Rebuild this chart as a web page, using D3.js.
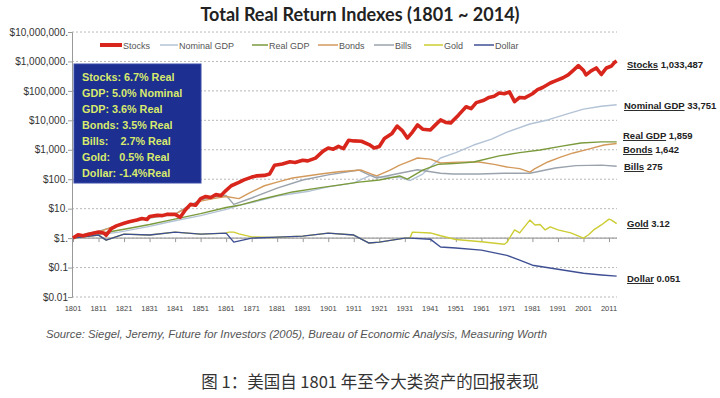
<!DOCTYPE html>
<html>
<head>
<meta charset="utf-8">
<script src="https://cdn.jsdelivr.net/npm/d3@7"></script>
<style>
  body { margin: 0; background: #fff; }
  svg { display: block; font-family: "Liberation Sans", Arial, sans-serif; }
</style>
</head>
<body>
<div id="chart"></div>
<script>
// ---- data ----
var stocks = [[1801,1],[1803,1.3],[1805,1.2],[1808,1.4],[1811,1.6],[1813,1.5],[1814,1.25],[1816,2.1],[1818,2.6],[1821,3.2],[1823,3.6],[1826,4.1],[1828,4.6],[1830,4.3],[1831,5.4],[1834,6.0],[1836,5.8],[1838,6.5],[1841,6.4],[1843,5.1],[1845,9],[1847,14],[1849,13],[1851,22],[1853,26],[1855,24],[1857,30],[1859,28],[1861,42],[1863,60],[1866,78],[1868,95],[1871,118],[1873,130],[1876,135],[1878,150],[1880,300],[1883,330],[1886,390],[1888,370],[1891,440],[1893,420],[1896,520],[1899,900],[1901,1150],[1903,1050],[1905,1300],[1907,1100],[1909,2100],[1911,2000],[1914,1950],[1917,1500],[1919,1150],[1921,1300],[1923,2400],[1926,3600],[1928,6400],[1930,4500],[1932,2500],[1934,4000],[1936,7000],[1938,5000],[1941,4700],[1943,7000],[1945,10300],[1947,8500],[1949,8200],[1952,15000],[1955,29000],[1957,25000],[1959,40000],[1962,48000],[1964,60000],[1966,66000],[1968,85000],[1970,80000],[1972,93000],[1974,43000],[1976,60000],[1978,58000],[1981,80000],[1983,110000],[1985,130000],[1988,185000],[1990,220000],[1993,280000],[1995,350000],[1997,500000],[1999,720000],[2001,500000],[2002,350000],[2004,480000],[2006,600000],[2008,360000],[2009,470000],[2010,600000],[2012,700000],[2013,900000],[2014,1033487]];
var nominalGdp = [[1801,1],[1811,1.3],[1819,1.6],[1831,2.5],[1839,3.6],[1851,5.8],[1861,9.5],[1866,13],[1871,16],[1881,27],[1894,40],[1901,55],[1911,75],[1918,140],[1921,120],[1929,115],[1933,90],[1938,150],[1945,525],[1951,800],[1958,1450],[1965,2300],[1971,4000],[1980,7500],[1987,10300],[1995,17000],[2001,24000],[2008,30000],[2014,33751]];
var realGdp = [[1801,1],[1811,1.4],[1821,2.0],[1831,2.9],[1839,4.1],[1851,6.8],[1861,11],[1866,13],[1874,20],[1887,37],[1898,52],[1905,63],[1913,80],[1921,94],[1925,110],[1929,129],[1932,100],[1938,205],[1944,320],[1950,340],[1958,385],[1968,620],[1976,800],[1984,980],[1992,1300],[2000,1700],[2008,1850],[2014,1859]];
var bonds = [[1801,1],[1806,1.4],[1811,1.6],[1816,2.3],[1821,3.2],[1826,4.2],[1831,5.0],[1836,5.8],[1841,6.5],[1846,11],[1851,18],[1856,22],[1861,26],[1866,22],[1870,34],[1876,60],[1881,80],[1887,110],[1898,150],[1905,180],[1914,205],[1918,150],[1920,130],[1925,200],[1929,300],[1932,380],[1936,525],[1941,480],[1945,355],[1952,380],[1960,385],[1966,320],[1971,260],[1976,230],[1980,175],[1982,230],[1987,385],[1992,560],[1997,780],[2003,1050],[2009,1450],[2014,1642]];
var bills = [[1801,1],[1806,1.4],[1811,1.7],[1816,2.3],[1821,3.2],[1831,4.8],[1841,6.5],[1846,12],[1851,20],[1856,25],[1861,28],[1864,14],[1871,23],[1881,50],[1891,94],[1901,140],[1913,205],[1917,140],[1920,110],[1929,160],[1936,210],[1945,160],[1950,150],[1960,150],[1970,160],[1980,160],[1990,240],[1998,290],[2008,300],[2014,275]];
var gold = [[1801,1],[1811,1.27],[1814,0.85],[1821,1.37],[1831,1.27],[1841,1.6],[1851,1.37],[1861,1.48],[1862,1.6],[1864,1.6],[1866,1.4],[1871,1.1],[1879,1.05],[1881,1.08],[1891,1.17],[1901,1.48],[1911,1.27],[1917,0.68],[1921,0.73],[1931,1.0],[1933,1.0],[1934,1.6],[1941,1.5],[1945,1.2],[1951,0.9],[1961,0.75],[1970,0.62],[1971,0.72],[1974,1.9],[1976,1.5],[1980,4.1],[1982,2.8],[1984,2.9],[1986,1.9],[1988,2.4],[1991,1.9],[1996,1.5],[2001,1.0],[2003,1.3],[2005,1.9],[2008,2.8],[2011,4.4],[2012,4.1],[2014,3.12]];
var dollar = [[1801,1],[1811,1.27],[1814,0.85],[1821,1.37],[1831,1.27],[1841,1.6],[1851,1.37],[1861,1.48],[1864,0.73],[1871,1.0],[1881,1.08],[1891,1.17],[1901,1.48],[1911,1.27],[1917,0.68],[1921,0.73],[1931,1.0],[1933,1.0],[1941,0.92],[1945,0.5],[1951,0.46],[1961,0.39],[1971,0.26],[1976,0.18],[1981,0.12],[1991,0.088],[2001,0.064],[2008,0.056],[2014,0.051]];

var seriesNames = ["Stocks", "Nominal GDP", "Real GDP", "Bonds", "Bills", "Gold", "Dollar"];
var seriesColors = ["#d9261c", "#b3c3d6", "#7b9a3c", "#d49a5c", "#9aa3ad", "#cccc33", "#3f4f94"];
var endValues = ["1,033,487", "33,751", "1,859", "1,642", "275", "3.12", "0.051"];
var yTickValues = [1e7, 1e6, 1e5, 1e4, 1e3, 100, 10, 1, 0.1, 0.01];
var yTickLabels = ["$10,000,000.", "$1,000,000.", "$100,000.", "$10,000.", "$1,000.", "$100.", "$10.", "$1.", "$0.1", "$0.01"];
var xTickValues = d3.range(1801, 2012, 10);
var boxLines = ["Stocks: 6.7% Real", "GDP: 5.0% Nominal", "GDP: 3.6% Real", "Bonds: 3.5% Real", "Bills:    2.7% Real", "Gold:   0.5% Real", "Dollar: -1.4%Real"];

var W = 720, H = 398;
var svg = d3.select("#chart").append("svg").attr("width", W).attr("height", H);

var x = d3.scaleLinear().domain([1801, 2011]).range([73, 609]);
var y = d3.scaleLog().domain([0.01, 1e7]).range([297, 32]);

// title
svg.append("text")
    .attr("x", 360).attr("y", 21)
    .attr("text-anchor", "middle")
    .style("font-family", "Lato, 'Open Sans', sans-serif")
    .style("font-weight", "bold").style("font-size", "18px")
    .style("fill", "#222")
    .text("Total Real Return Indexes (1801 ~ 2014)");

// grid lines
svg.append("g").selectAll("line")
    .data(yTickValues)
    .enter().append("line")
    .attr("x1", 72).attr("x2", 617)
    .attr("y1", d => y(d)).attr("y2", d => y(d))
    .style("stroke", "#b8b8b8").style("stroke-width", 1)
    .style("stroke-dasharray", "2,2");

// y axis
var yAxis = d3.axisLeft(y).tickValues(yTickValues)
    .tickFormat((d, i) => yTickLabels[i]).tickSize(4);
var gy = svg.append("g").attr("transform", "translate(72,0)").call(yAxis);
gy.select(".domain").style("stroke", "#999");
gy.selectAll(".tick line").style("stroke", "#999");
gy.selectAll("text").style("font-size", "10px").style("fill", "#333")
    .attr("x", -4);

// x axis drawn at $1 level, labels at the bottom
var xAxis = d3.axisBottom(x).tickValues(xTickValues).tickFormat("").tickSize(4);
var gx = svg.append("g").attr("transform", "translate(0," + y(1) + ")").call(xAxis);
gx.select(".domain").attr("d", "M72,0H617").style("stroke", "#a0a0a0").style("stroke-width", 1.3);
gx.selectAll(".tick line").style("stroke", "#999");

svg.append("g").selectAll("text")
    .data(xTickValues)
    .enter().append("text")
    .attr("x", d => x(d)).attr("y", 311)
    .attr("text-anchor", "middle")
    .style("font-size", "7.5px").style("fill", "#444")
    .text(d => d);

// lines
var line = d3.line().x(d => x(d[0])).y(d => y(d[1]));
var allSeries = [stocks, nominalGdp, realGdp, bonds, bills, gold, dollar];
var drawOrder = [1, 4, 3, 2, 5, 6, 0];
drawOrder.forEach(function (i) {
    svg.append("path")
        .datum(allSeries[i])
        .attr("d", line)
        .style("fill", "none")
        .style("stroke", seriesColors[i])
        .style("stroke-width", i === 0 ? 3.6 : 1.4)
        .style("stroke-linejoin", "round");
});

// legend
var legendX = [100, 160, 252, 318, 374, 424, 474];
var legendLen = [22, 18, 16, 20, 20, 19, 20];
seriesNames.forEach(function (name, i) {
    svg.append("line")
        .attr("x1", legendX[i]).attr("x2", legendX[i] + legendLen[i])
        .attr("y1", 45).attr("y2", 45)
        .style("stroke", seriesColors[i])
        .style("stroke-width", i === 0 ? 4 : 1.5);
    svg.append("text")
        .attr("x", legendX[i] + legendLen[i] + 1).attr("y", 48.5)
        .style("font-size", "9px").style("fill", "#555")
        .text(name);
});

// info box
svg.append("rect")
    .attr("x", 74).attr("y", 64).attr("width", 127).attr("height", 119)
    .style("fill", "#1d2f91").style("stroke", "#3a4ca8").style("stroke-width", 1);
svg.append("g").selectAll("text")
    .data(boxLines)
    .enter().append("text")
    .attr("x", 82).attr("y", (d, i) => 81 + i * 16)
    .attr("xml:space", "preserve")
    .style("font-size", "10.8px").style("font-weight", "bold")
    .style("fill", "#d8ea6c")
    .text(d => d);

// end labels
var labelX = [627, 624, 623, 623, 624, 627, 627];
var labelY = [68, 109, 139, 153, 170, 227, 282];
seriesNames.forEach(function (name, i) {
    var t = svg.append("text")
        .attr("x", labelX[i]).attr("y", labelY[i])
        .style("font-size", "9.5px").style("font-weight", "bold").style("fill", "#222");
    t.append("tspan").style("text-decoration", "underline").text(name);
    t.append("tspan").text(" " + endValues[i]);
});

// source
svg.append("text")
    .attr("x", 46).attr("y", 338)
    .style("font-size", "11.3px").style("font-style", "italic").style("fill", "#555")
    .text("Source: Siegel, Jeremy, Future for Investors (2005), Bureau of Economic Analysis, Measuring Worth");

// caption
svg.append("text")
    .attr("x", 370).attr("y", 388)
    .attr("text-anchor", "middle")
    .style("font-family", "'Noto Sans CJK SC', sans-serif")
    .style("font-size", "16.5px").style("fill", "#333")
    .text("图 1：美国自 1801 年至今大类资产的回报表现");
</script>
</body>
</html>
